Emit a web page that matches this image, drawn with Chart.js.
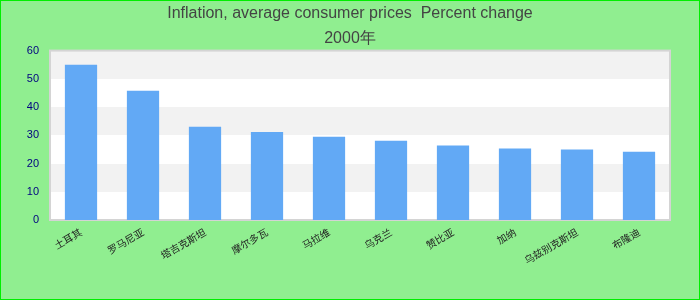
<!DOCTYPE html>
<html>
<head>
<meta charset="utf-8">
<script src="https://cdn.jsdelivr.net/npm/chart.js@4"></script>
<style>
	html, body { margin: 0; padding: 0; background: #90ee90; }
	#wrap { width: 700px; height: 300px; }
</style>
</head>
<body>
<div id="wrap"><canvas id="inflationChart" width="700" height="300"></canvas></div>
<script>
// Dados do gráfico
const countries = ["土耳其", "罗马尼亚", "塔吉克斯坦", "摩尔多瓦", "马拉维", "乌克兰", "赞比亚", "加纳", "乌兹别克斯坦", "布隆迪"];
const inflation = [55.0, 45.8, 33.0, 31.2, 29.5, 28.1, 26.4, 25.3, 25.0, 24.2];
const yTicks = [0, 10, 20, 30, 40, 50, 60];
const titleLines = ["Inflation, average consumer prices  Percent change", "2000年"];

// Fundo, faixas alternadas e borda
const backgroundPlugin = {
	id: 'backgroundPlugin',
	beforeDraw(chart) {
		const { ctx, chartArea, scales } = chart;
		ctx.save();
		ctx.fillStyle = '#90ee90';
		ctx.fillRect(0, 0, chart.width, chart.height);
		ctx.strokeStyle = '#00ee00';
		ctx.lineWidth = 2;
		ctx.strokeRect(0, 0, chart.width, chart.height);
		for (let i = 0; i < yTicks.length - 1; i++) {
			const top = scales.y.getPixelForValue(yTicks[i + 1]);
			const bottom = scales.y.getPixelForValue(yTicks[i]);
			ctx.fillStyle = i % 2 === 0 ? '#ffffff' : '#f2f2f2';
			ctx.fillRect(chartArea.left, Math.round(top), chartArea.right - chartArea.left, Math.round(bottom) - Math.round(top));
		}
		ctx.strokeStyle = '#d4d4d4';
		ctx.lineWidth = 2;
		ctx.strokeRect(chartArea.left, chartArea.top, chartArea.right - chartArea.left, chartArea.bottom - chartArea.top);
		ctx.restore();
	}
};

const createChart = (contextId, chartData, chartOptions) => {
	let ctx = document.getElementById(contextId).getContext('2d');
	return new Chart(ctx, {
		type: 'bar',
		data: chartData,
		options: chartOptions,
		plugins: [backgroundPlugin]
	});
};

createChart('inflationChart', {
	labels: countries,
	datasets: [{
		data: inflation,
		backgroundColor: '#62a9f5',
		barPercentage: 0.52,
		categoryPercentage: 1.0
	}]
}, {
	responsive: false,
	animation: false,
	layout: { padding: 0 },
	plugins: {
		legend: { display: false },
		tooltip: { enabled: false },
		title: {
			display: true,
			text: titleLines,
			color: '#444444',
			font: { family: 'Liberation Sans, Arial', size: 16, weight: 'normal', lineHeight: 1.55 },
			padding: { top: 1, bottom: 0 }
		}
	},
	scales: {
		x: {
			grid: { display: false, drawTicks: false },
			border: { display: false },
			ticks: {
				color: '#222222',
				font: { family: 'Noto Sans CJK SC', size: 10 },
				minRotation: 30,
				maxRotation: 30,
				autoSkip: false,
				padding: 6
			},
			afterFit(scale) { scale.height = 80; }
		},
		y: {
			min: 0,
			max: 60,
			grid: { display: false, drawTicks: false },
			border: { display: false },
			ticks: {
				stepSize: 10,
				color: '#000080',
				font: { family: 'Liberation Sans, Arial', size: 11 },
				padding: 11
			},
			afterFit(scale) { scale.width = 50; }
		},
		// eixo vazio só para reservar a margem direita
		yRight: {
			position: 'right',
			min: 0,
			max: 60,
			grid: { display: false, drawTicks: false },
			border: { display: false },
			ticks: { display: false },
			afterFit(scale) { scale.width = 30; }
		}
	}
});
</script>
</body>
</html>
